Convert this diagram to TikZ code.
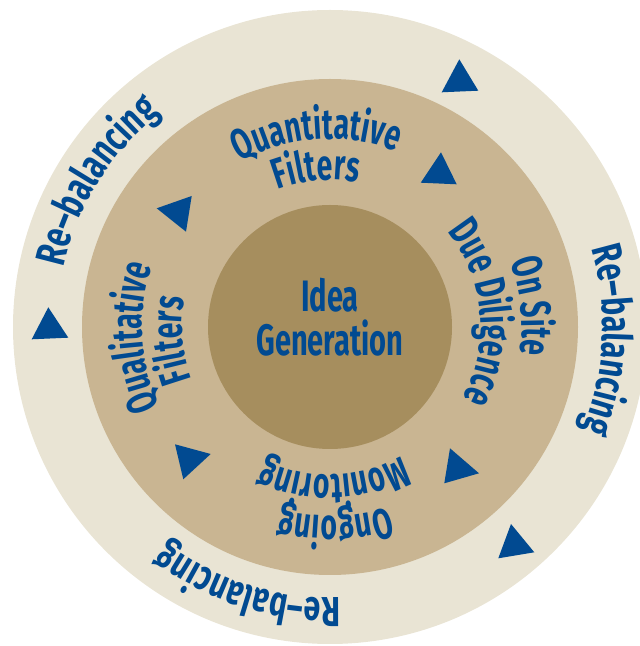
\documentclass[tikz,border=0pt]{standalone}
\usepackage{fontspec}
\newfontfamily\innerfont{Fira Sans}[FakeStretch=0.66]
\newfontfamily\outerfont{Fira Sans}[FakeStretch=0.72]
\usetikzlibrary{decorations.text}
\definecolor{ringout}{RGB}{233,228,212}
\definecolor{ringmid}{RGB}{201,181,146}
\definecolor{ringin}{RGB}{166,142,94}
\definecolor{tblue}{RGB}{1,74,145}
\newcommand{\inlbl}{\innerfont\bfseries\fontsize{43}{44}\selectfont\color{tblue}}
\newcommand{\outlbl}{\outerfont\bfseries\fontsize{42}{44}\selectfont\color{tblue}}
\tikzset{
  tri/.style={fill=tblue, draw=none},
  arclabel/.style={decorate, decoration={text along path, text align=center, text={#1}}},
  centrelbl/.style={font=\innerfont\bfseries\fontsize{44}{46}\selectfont, text=tblue, anchor=base, inner sep=0},
}
\begin{document}
\begin{tikzpicture}[x=1pt,y=1pt]
\useasboundingbox (0,0) rectangle (640,646);
\coordinate (C) at (330,319);
\begin{scope}
\clip (0,0) rectangle (640,646);
\fill[ringout] (C) circle[radius=317];
\end{scope}
\fill[ringmid] (C) circle[radius=248];
\fill[ringin] (C) circle[radius=122];
% triangles
\fill[tri] (459.3,586.7) -- (441.7,553.7) -- (478.3,555.3) -- cycle;
\fill[tri] (48.3,338.7) -- (31.7,306.7) -- (68.3,308.3) -- cycle;
\fill[tri] (511,122) -- (498.3,87.7) -- (534.3,93.7) -- cycle;
\fill[tri] (441,493.7) -- (420.7,463.3) -- (456.7,461.7) -- cycle;
\fill[tri] (191.7,450) -- (156.7,437.7) -- (186,414.3) -- cycle;
\fill[tri] (175,201.7) -- (210.7,192) -- (183.3,166.7) -- cycle;
\fill[tri] (450,197.7) -- (479,172.7) -- (444.3,162.7) -- cycle;
% centre
\node[centrelbl] (idea) at (330,334) {Idea};
\node[centrelbl] (gen) at (330,290) {Generation};
% outer labels
\begin{scope}[shift={(C)}]
\path[arclabel={|\outlbl|Re–balancing}] (188:273) arc[start angle=188, end angle=108, radius=273];
\path[arclabel={|\outlbl|Re–balancing}] (37.3:273) arc[start angle=37.3, end angle=-42.7, radius=273];
\path[arclabel={|\outlbl|Re–balancing}] (-67.5:271) arc[start angle=-67.5, end angle=-147.5, radius=271];
% inner labels
\path[arclabel={|\inlbl|Quantitative}] (144:188) arc[start angle=144, end angle=44, radius=188];
\path[arclabel={|\inlbl|Filters}] (155:147) arc[start angle=155, end angle=35, radius=147];
\path[arclabel={|\inlbl|Qualitative}] (233:188) arc[start angle=233, end angle=133, radius=188];
\path[arclabel={|\inlbl|Filters}] (244.7:148) arc[start angle=244.7, end angle=124.7, radius=148];
\path[arclabel={|\inlbl|On Site}] (56:192) arc[start angle=56, end angle=-44, radius=192];
\path[arclabel={|\inlbl|Due Diligence}] (65.4:151) arc[start angle=65.4, end angle=-54.6, radius=151];
\path[arclabel={|\inlbl|Ongoing}] (-38.5:189) arc[start angle=-38.5, end angle=-138.5, radius=189];
\path[arclabel={|\inlbl|Monitoring}] (-28.6:148) arc[start angle=-28.6, end angle=-148.6, radius=148];
\end{scope}
\end{tikzpicture}
\end{document}
